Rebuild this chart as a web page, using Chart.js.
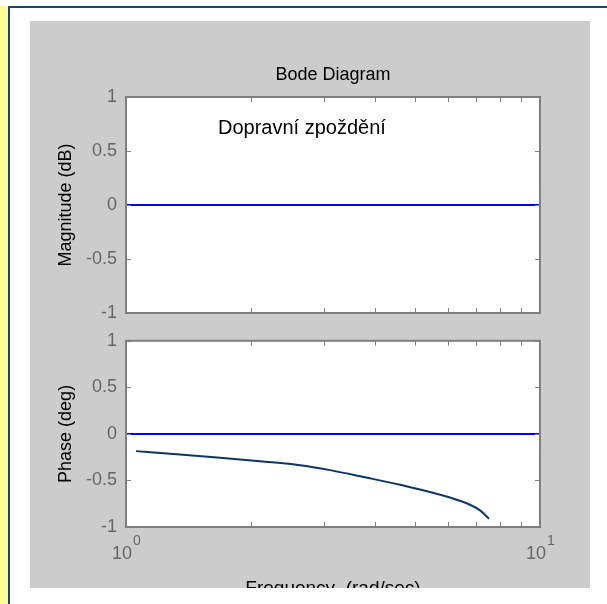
<!DOCTYPE html>
<html>
<head>
<meta charset="utf-8">
<script src="https://cdn.jsdelivr.net/npm/chart.js@4.4.0/dist/chart.umd.min.js"></script>
<style>
  body { margin: 0; width: 607px; height: 604px; background: #fff; position: relative; overflow: hidden;
         font-family: "Liberation Sans", Arial, sans-serif; }
  #strip { position: absolute; left: 0; top: 6px; width: 8px; height: 598px; background: #ffff99; }
  #edge { position: absolute; left: 8px; top: 6px; width: 599px; height: 598px;
          border-left: 2px solid #1c3f78; border-top: 2px solid #1c3f78; }
  #panel { position: absolute; left: 30px; top: 21px; width: 560px; height: 567px; background: #cccccc; }
  canvas { position: absolute; left: 30px; }
  #magChart { top: 21px; }
  #phaseChart { top: 321px; }
  #note { position: absolute; left: 218px; top: 117px; font-size: 20px; line-height: 20px; color: #000; white-space: nowrap; }
</style>
</head>
<body>
<div id="strip"></div>
<div id="edge"></div>
<div id="panel"></div>
<canvas id="magChart" width="560" height="312"></canvas>
<canvas id="phaseChart" width="560" height="267"></canvas>
<div id="note">Dopravní zpoždění</div>
<script>
// data
const magFreq = [1, 10];
const magDb = [0, 0];
const zeroFreq = [1, 10];
const zeroPhase = [0, 0];
const phaseFreq = [1.057, 1.35, 1.687, 2.107, 2.633, 3.11, 3.778, 4.589, 6.062, 6.775, 7.164, 7.53];
const phaseDeg = [-0.185, -0.22, -0.255, -0.294, -0.336, -0.389, -0.466, -0.546, -0.683, -0.761, -0.821, -0.911];
const yTicks = [-1, -0.5, 0, 0.5, 1];
const minorFreq = [2, 3, 4, 5, 6, 7, 8, 9];
const decades = [1, 10];

const pts = (xs, ys) => xs.map((v, i) => ({ x: v, y: ys[i] }));
const FONT = '"Liberation Sans", Arial, sans-serif';

// white plot box, gray frame and inward ticks like matlab
const frame = {
  id: 'frame',
  beforeDraw(chart) {
    const { ctx, chartArea: a } = chart;
    ctx.save();
    ctx.fillStyle = '#fff';
    ctx.fillRect(a.left, a.top, a.width, a.height);
    ctx.restore();
  },
  afterDraw(chart) {
    const { ctx, chartArea: a, scales } = chart;
    ctx.save();
    ctx.strokeStyle = '#7f7f7f';
    ctx.lineWidth = 1;
    ctx.beginPath();
    minorFreq.forEach(v => {
      const px = Math.round(scales.x.getPixelForValue(v)) + 0.5;
      ctx.moveTo(px, a.bottom); ctx.lineTo(px, a.bottom - 5);
      ctx.moveTo(px, a.top); ctx.lineTo(px, a.top + 5);
    });
    yTicks.forEach(v => {
      const py = Math.round(scales.y.getPixelForValue(v)) + 0.5;
      ctx.moveTo(a.left, py); ctx.lineTo(a.left + 5, py);
      ctx.moveTo(a.right, py); ctx.lineTo(a.right - 5, py);
    });
    ctx.stroke();
    ctx.lineWidth = 2;
    ctx.strokeRect(a.left, a.top, a.width, a.height);
    ctx.restore();
  }
};

// 10^n labels under the phase plot
const decadeLabels = {
  id: 'decadeLabels',
  afterDraw(chart) {
    const { ctx, scales } = chart;
    ctx.save();
    ctx.fillStyle = '#666';
    ctx.textBaseline = 'middle';
    decades.forEach(v => {
      const px = scales.x.getPixelForValue(v);
      const exp = String(Math.round(Math.log10(v)));
      ctx.font = '18px ' + FONT;
      const w1 = ctx.measureText('10').width;
      ctx.font = '14px ' + FONT;
      const w2 = ctx.measureText(exp).width;
      const x0 = px - (w1 + w2) / 2;
      ctx.font = '18px ' + FONT;
      ctx.fillText('10', x0, 233);
      ctx.font = '14px ' + FONT;
      ctx.fillText(exp, x0 + w1 + 1, 220);
    });
    ctx.restore();
  }
};

function yAxis(title) {
  return {
    min: -1, max: 1,
    afterBuildTicks: s => { s.ticks = yTicks.map(v => ({ value: v })); },
    afterFit: s => { s.width = 96; },
    grid: { display: false, drawTicks: false },
    border: { display: false },
    ticks: { color: '#666', padding: 9, font: { size: 18, family: FONT }, callback: v => String(v) },
    title: { display: true, text: title, color: '#000', font: { size: 18, family: FONT }, padding: { top: 25 } }
  };
}

new Chart(document.getElementById('magChart'), {
  type: 'line',
  data: {
    datasets: [{ data: pts(magFreq, magDb), borderColor: '#0000ff', borderWidth: 2, pointRadius: 0, fill: false }]
  },
  options: {
    responsive: false,
    animation: false,
    layout: { padding: { left: 0, right: 50, top: 0, bottom: 20 } },
    plugins: {
      legend: { display: false },
      tooltip: { enabled: false },
      title: { display: true, fullSize: false, text: 'Bode Diagram', color: '#000',
               font: { size: 18, family: FONT, weight: 'normal' },
               padding: { top: 43.2, bottom: 11.2 } }
    },
    scales: {
      x: { type: 'logarithmic', min: 1, max: 10, display: false },
      y: yAxis('Magnitude (dB)')
    }
  },
  plugins: [frame]
});

new Chart(document.getElementById('phaseChart'), {
  type: 'line',
  data: {
    datasets: [
      { data: pts(zeroFreq, zeroPhase), borderColor: '#0000ff', borderWidth: 2, pointRadius: 0, fill: false },
      { data: pts(phaseFreq, phaseDeg), borderColor: '#0a3566', borderWidth: 2, pointRadius: 0, fill: false,
        cubicInterpolationMode: 'monotone' }
    ]
  },
  options: {
    responsive: false,
    animation: false,
    layout: { padding: { left: 0, right: 50, top: 14, bottom: 0 } },
    plugins: { legend: { display: false }, tooltip: { enabled: false } },
    scales: {
      x: {
        type: 'logarithmic', min: 1, max: 10,
        grid: { display: false, drawTicks: false },
        border: { display: false },
        ticks: { display: false },
        afterFit: s => { s.height = 61; },
        title: { display: true, text: 'Frequency  (rad/sec)', color: '#000', font: { size: 19, family: FONT },
                 padding: { top: 0, bottom: -12 } }
      },
      y: yAxis('Phase (deg)')
    }
  },
  plugins: [frame, decadeLabels]
});
</script>
</body>
</html>
